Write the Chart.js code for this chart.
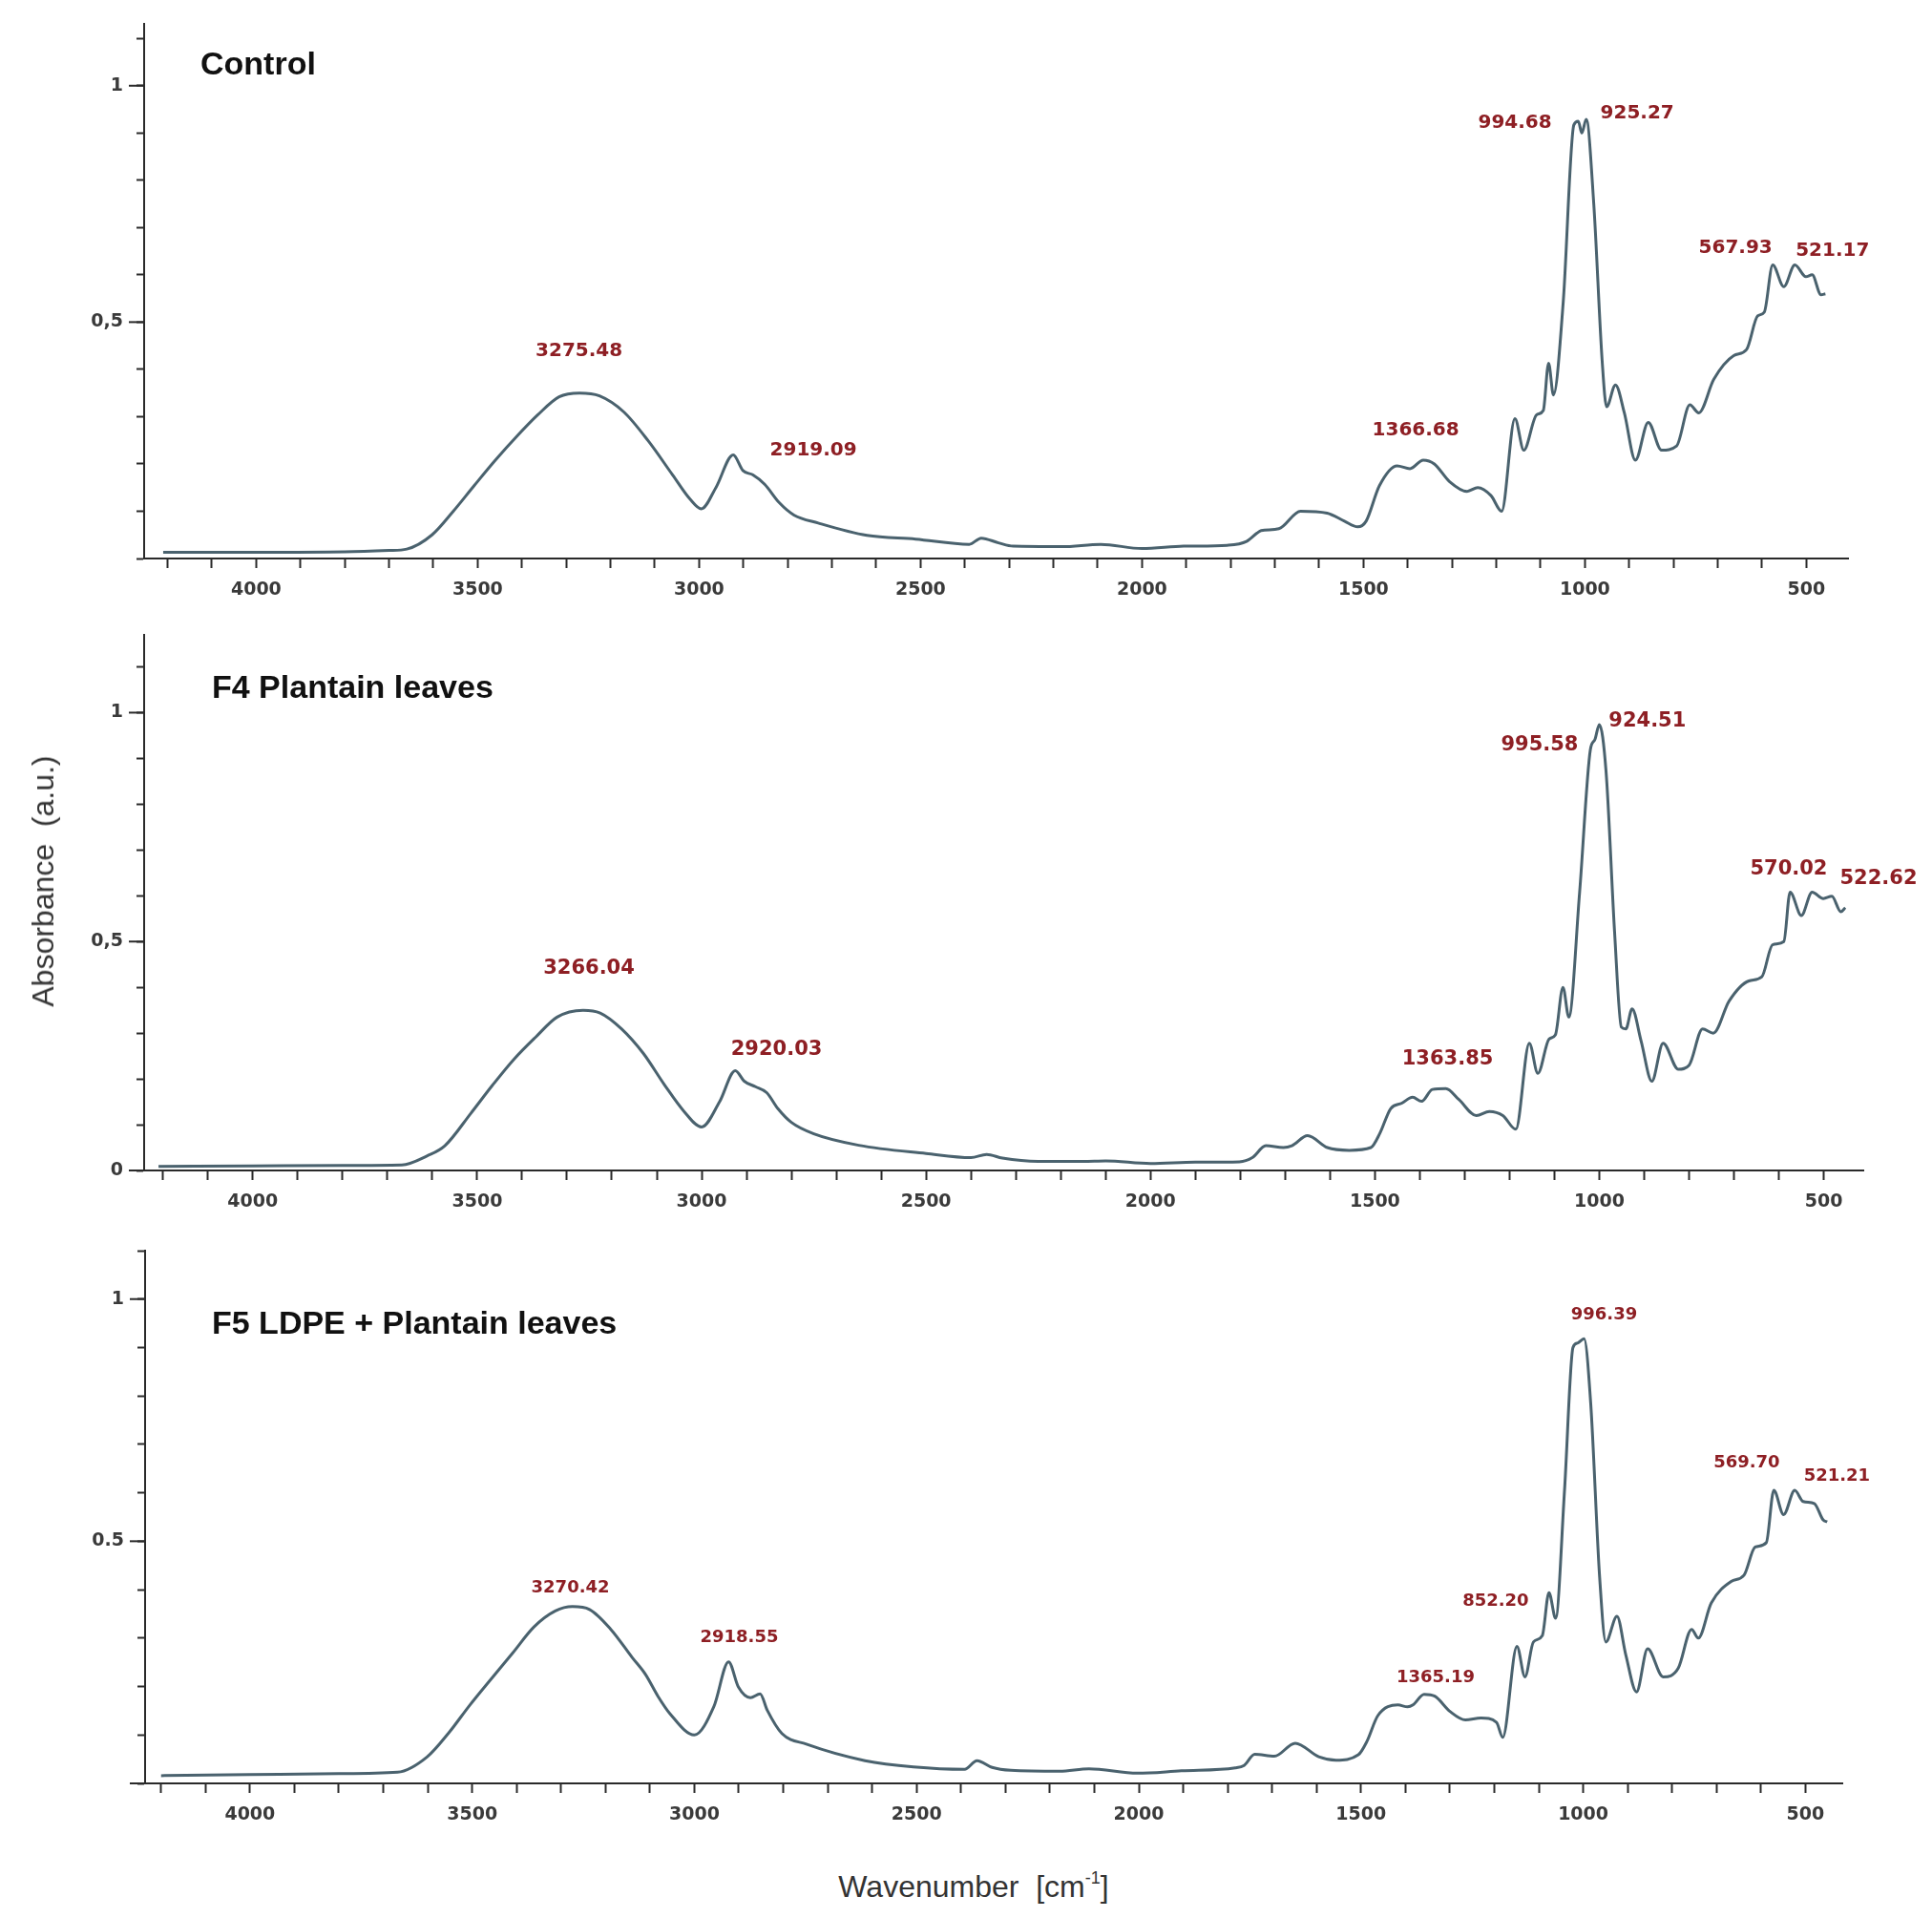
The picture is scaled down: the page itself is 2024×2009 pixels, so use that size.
<!DOCTYPE html>
<html>
<head>
<meta charset="utf-8">
<script src="https://cdn.jsdelivr.net/npm/chart.js@4.4.1/dist/chart.umd.min.js"></script>
<style>
html,body{margin:0;padding:0;background:#fff;}
#wrap{position:relative;width:2024px;height:2009px;background:#fff;overflow:hidden;}
canvas{position:absolute;left:0;}
.ptitle{position:absolute;font-family:"Liberation Sans",Arial,sans-serif;font-weight:bold;font-size:34px;color:#111;white-space:nowrap;line-height:1;}
.atitle{position:absolute;font-family:"Liberation Sans",Arial,sans-serif;font-size:32px;color:#333;white-space:nowrap;line-height:1;transform:translate(-50%,-50%);}
.atitle sup{font-size:18px;vertical-align:14px;}
</style>
</head>
<body>
<div id="wrap">
<canvas id="c1" width="2024" height="640" style="top:0px;width:2024px;height:640px;"></canvas>
<canvas id="c2" width="2024" height="640" style="top:640px;width:2024px;height:640px;"></canvas>
<canvas id="c3" width="2024" height="650" style="top:1280px;width:2024px;height:650px;"></canvas>
<div class="ptitle" style="left:210px;top:49px;">Control</div>
<div class="ptitle" style="left:222px;top:702px;">F4 Plantain leaves</div>
<div class="ptitle" style="left:222px;top:1368px;">F5 LDPE + Plantain leaves</div>
<div class="atitle" style="left:45px;top:923px;transform:translate(-50%,-50%) rotate(-90deg);">Absorbance&nbsp;&nbsp;(a.u.)</div>
<div class="atitle" style="left:1020px;top:1975px;">Wavenumber&nbsp;&nbsp;[cm<sup>-1</sup>]</div>
</div>
<script>
// ---------- DATA ----------
const wnControl = [4210,4000,3800,3700,3660,3603,3555,3508,3460,3412,3364,3316,3270,3225,3170,3115,3060,3020,2995,2962,2923,2901,2879,2852,2819,2786,2731,2621,2511,2390,2363,2324,2291,2181,2093,2000,1906,1808,1764,1740,1731,1691,1642,1582,1543,1513,1494,1464,1424,1395,1365,1340,1306,1266,1242,1212,1188,1158,1138,1109,1094,1082,1071,1049,1025,1015,1007,997,980,961,951,931,911,886,857,827,793,763,743,709,664,635,610,595,576,551,526,501,487,467,457];
const absControl = [0.013,0.013,0.014,0.017,0.020,0.050,0.100,0.154,0.208,0.258,0.304,0.342,0.350,0.344,0.310,0.249,0.177,0.125,0.105,0.150,0.219,0.186,0.177,0.157,0.118,0.092,0.075,0.049,0.041,0.030,0.043,0.033,0.026,0.025,0.030,0.021,0.026,0.028,0.036,0.054,0.059,0.063,0.100,0.096,0.079,0.067,0.079,0.154,0.196,0.190,0.208,0.200,0.163,0.142,0.150,0.133,0.100,0.296,0.229,0.304,0.313,0.413,0.346,0.542,0.917,0.925,0.900,0.929,0.750,0.417,0.321,0.367,0.308,0.208,0.288,0.229,0.238,0.325,0.308,0.379,0.429,0.442,0.513,0.521,0.621,0.575,0.621,0.596,0.600,0.558,0.560];

const wnF4 = [4210,4000,3800,3668,3611,3572,3514,3466,3418,3370,3322,3264,3226,3178,3130,3082,3040,3000,2960,2925,2905,2880,2855,2830,2800,2750,2650,2500,2400,2365,2330,2250,2150,2100,2000,1900,1802,1773,1743,1704,1685,1650,1606,1557,1509,1489,1465,1440,1416,1396,1372,1342,1313,1274,1245,1215,1186,1156,1137,1112,1098,1081,1068,1044,1020,1010,1000,985,966,951,941,927,907,883,858,824,800,770,746,711,667,638,614,589,575,550,526,501,482,462,452];
const absF4 = [0.009,0.010,0.011,0.012,0.032,0.054,0.125,0.186,0.243,0.291,0.335,0.350,0.344,0.309,0.256,0.186,0.130,0.095,0.150,0.218,0.195,0.183,0.170,0.135,0.105,0.080,0.055,0.037,0.028,0.035,0.027,0.020,0.020,0.021,0.015,0.018,0.019,0.028,0.054,0.050,0.054,0.076,0.050,0.044,0.050,0.081,0.135,0.147,0.160,0.151,0.177,0.179,0.155,0.120,0.129,0.120,0.090,0.278,0.212,0.287,0.296,0.400,0.335,0.607,0.919,0.941,0.974,0.871,0.520,0.313,0.309,0.353,0.283,0.195,0.278,0.221,0.230,0.309,0.300,0.370,0.414,0.423,0.493,0.500,0.608,0.557,0.608,0.594,0.599,0.565,0.574];

const wnF5 = [4200,4000,3800,3668,3601,3553,3505,3457,3409,3361,3313,3274,3236,3188,3140,3110,3082,3055,3000,2956,2923,2901,2874,2852,2836,2803,2748,2616,2507,2392,2364,2330,2288,2178,2112,2003,1904,1783,1763,1739,1695,1648,1595,1556,1506,1487,1462,1417,1395,1383,1358,1334,1299,1265,1230,1195,1181,1149,1131,1112,1092,1077,1062,1042,1023,1013,998,983,963,949,924,904,880,855,820,786,756,741,712,667,638,613,588,571,549,524,505,480,460,451];
const absF5 = [0.016,0.018,0.020,0.023,0.055,0.104,0.162,0.216,0.269,0.323,0.356,0.365,0.359,0.318,0.260,0.225,0.180,0.144,0.100,0.159,0.251,0.199,0.177,0.185,0.151,0.103,0.081,0.047,0.034,0.029,0.047,0.033,0.027,0.025,0.030,0.021,0.026,0.032,0.037,0.060,0.056,0.083,0.055,0.048,0.059,0.086,0.140,0.162,0.158,0.162,0.184,0.180,0.148,0.131,0.135,0.126,0.095,0.283,0.220,0.292,0.305,0.394,0.341,0.605,0.900,0.909,0.918,0.784,0.426,0.292,0.345,0.265,0.189,0.278,0.220,0.238,0.318,0.300,0.372,0.417,0.430,0.488,0.497,0.605,0.555,0.605,0.582,0.578,0.544,0.540];

// peak annotation labels (text, wavenumber position, absorbance position)
const peakText1 = ['3275.48','2919.09','1366.68','994.68','925.27','567.93','521.17'];
const peakX1    = [3271,2742,1382,1158,882,660,441];
const peakY1    = [0.438,0.229,0.271,0.922,0.942,0.657,0.651];
const peakText2 = ['3266.04','2920.03','1363.85','995.58','924.51','570.02','522.62'];
const peakX2    = [3251,2833,1338,1133,893,578,378];
const peakY2    = [0.441,0.263,0.242,0.929,0.981,0.658,0.637];
const peakText3 = ['3270.42','2918.55','1365.19','852.20','996.39','569.70','521.21'];
const peakX3    = [3279,2899,1332,1197,953,632,429];
const peakY3    = [0.404,0.300,0.218,0.376,0.967,0.662,0.634];

// tick labels
const xTickValues = [4000,3500,3000,2500,2000,1500,1000,500];
const xTickText   = ['4000','3500','3000','2500','2000','1500','1000','500'];
const yTickValues = [0, 0.5, 1];
const yTickText1  = ['', '0,5', '1'];
const yTickText2  = ['0', '0,5', '1'];
const yTickText3  = ['', '0.5', '1'];

// ---------- STYLE ----------
const AXIS = '#2a2a2a';
const LINE = '#4a626e';
const RED = '#8e1f24';
const TICKFONT = {family:'"DejaVu Sans", sans-serif', size:19, weight:'bold'};

const peakPlugin = {
  id:'peaks',
  afterDraw(chart, args, o){
    const ctx = chart.ctx, xs = chart.scales.x, ys = chart.scales.y;
    ctx.save();
    ctx.strokeStyle = AXIS; ctx.lineWidth = 2;
    o.majors.forEach(v => {
      const py = ys.getPixelForValue(v);
      ctx.beginPath(); ctx.moveTo(xs.left - 16, py); ctx.lineTo(xs.left, py); ctx.stroke();
    });
    ctx.font = o.font; ctx.fillStyle = RED; ctx.textAlign = 'center'; ctx.textBaseline = 'middle';
    o.text.forEach((t,i) => ctx.fillText(t, xs.getPixelForValue(o.x[i]), ys.getPixelForValue(o.y[i])));
    ctx.restore();
  }
};

function makePanel(id, p){
  const data = p.wn.map((x,i) => ({x:x, y:p.abs[i]}));
  new Chart(document.getElementById(id), {
    type:'line',
    data:{datasets:[{data:data, borderColor:LINE, borderWidth:3, pointRadius:0, cubicInterpolationMode:'monotone', fill:false}]},
    plugins:[peakPlugin],
    options:{
      responsive:false, animation:false, devicePixelRatio:1,
      layout:{padding:{left:p.padL, right:p.padR, top:p.padT, bottom:0}},
      plugins:{legend:{display:false}, tooltip:{enabled:false},
        peaks:{text:p.pt, x:p.px, y:p.py, font:p.pfont, majors:p.majors}},
      scales:{
        x:{type:'linear', reverse:true, min:p.xMin, max:p.xMax,
          afterFit(s){ s.height = p.xH; },
          border:{display:true, color:AXIS, width:2},
          grid:{display:true, drawOnChartArea:false, drawTicks:true, tickLength:10, tickColor:AXIS, tickWidth:2},
          ticks:{stepSize:100, includeBounds:false, autoSkip:false, maxRotation:0, minRotation:0, padding:12, color:'#3a3a3a', font:TICKFONT,
            callback(v){ const i = xTickValues.indexOf(Math.round(v)); return i >= 0 ? xTickText[i] : ''; }}
        },
        y:{type:'linear', min:0, max:p.yMax,
          afterFit(s){ s.width = 100; },
          border:{display:true, color:AXIS, width:2},
          grid:{display:true, drawOnChartArea:false, drawTicks:true, tickLength:8, tickColor:AXIS, tickWidth:2},
          ticks:{stepSize:0.1, includeBounds:false, autoSkip:false, padding:14, color:'#3a3a3a', font:TICKFONT,
            callback(v){ const i = yTickValues.findIndex(t => Math.abs(t - v) < 1e-6); return i >= 0 ? p.yText[i] : ''; }}
        }
      }
    }
  });
}

makePanel('c1', {wn:wnControl, abs:absControl, pt:peakText1, px:peakX1, py:peakY1, pfont:'bold 20px "DejaVu Sans", sans-serif',
  majors:[0.5,1], yText:yTickText1, xMin:406, xMax:4253, yMax:1.13, padL:51, padR:88, padT:19, xH:55});
makePanel('c2', {wn:wnF4, abs:absF4, pt:peakText2, px:peakX2, py:peakY2, pfont:'bold 21px "DejaVu Sans", sans-serif',
  majors:[0,0.5,1], yText:yTickText2, xMin:412, xMax:4242, yMax:1.169, padL:51, padR:72, padT:25, xH:54});
makePanel('c3', {wn:wnF5, abs:absF5, pt:peakText3, px:peakX3, py:peakY3, pfont:'bold 18px "DejaVu Sans", sans-serif',
  majors:[0,0.5,1], yText:yTickText3, xMin:417, xMax:4236, yMax:1.10, padL:52, padR:94, padT:30, xH:62});
</script>
</body>
</html>
